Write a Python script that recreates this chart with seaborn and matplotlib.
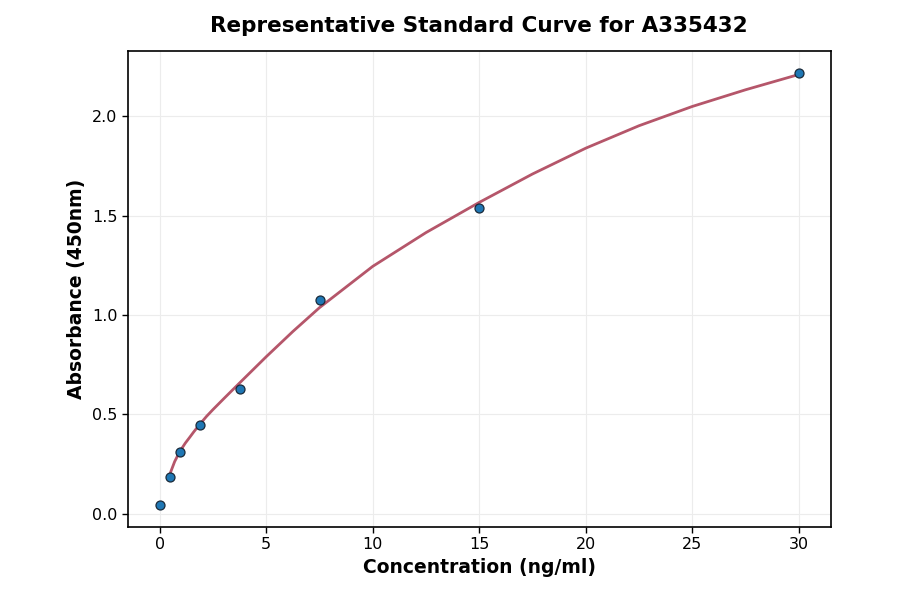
import numpy as np
import pandas as pd
import matplotlib
matplotlib.use("Agg")
import matplotlib.pyplot as plt
import seaborn as sns

# standards (ng/ml) and measured OD
conc = [0, 0.469, 0.938, 1.875, 3.75, 7.5, 15, 30]
od = [0.042, 0.184, 0.308, 0.447, 0.627, 1.075, 1.54, 2.22]

# fitted curve
curve_x = [0.469, 0.7, 0.938, 1.2, 1.406, 1.6, 1.875, 2.2, 2.5, 3, 3.75, 5, 6.25, 7.5,
           10, 12.5, 15, 17.5, 20, 22.5, 25, 27.5, 30]
curve_y = [0.197, 0.262, 0.312, 0.355, 0.384, 0.412, 0.449, 0.49, 0.524, 0.578, 0.658,
           0.79, 0.917, 1.037, 1.245, 1.415, 1.567, 1.71, 1.84, 1.953, 2.05, 2.134, 2.211]

sns.set_theme(style="whitegrid")
plt.rcParams['font.family'] = ['DejaVu Sans']
plt.rcParams['text.color'] = 'black'
plt.rcParams['axes.labelcolor'] = 'black'

pts = pd.DataFrame({"conc": conc, "od": od})
fit = pd.DataFrame({"x": curve_x, "y": curve_y})

fig, ax = plt.subplots(figsize=(9, 5.94), dpi=100)
fig.subplots_adjust(left=0.142, right=0.923, top=0.914, bottom=0.113)

sns.lineplot(data=fit, x="x", y="y", color="#b5566a", linewidth=2, ax=ax)
sns.scatterplot(data=pts, x="conc", y="od", color="#1f77b4", edgecolor="#1a2a3a",
                linewidth=0.9, s=42, zorder=3, ax=ax)

ax.margins(x=0.05, y=0.05)
ax.set_xticks([0, 5, 10, 15, 20, 25, 30])
ax.set_yticks([0.0, 0.5, 1.0, 1.5, 2.0])
ax.grid(True, color="#ececec", linewidth=0.8)
for s in ax.spines.values():
    s.set_color("black")
    s.set_linewidth(1.2)
ax.tick_params(axis="both", direction="out", length=4, width=1, color="black",
               labelsize=11.5, labelcolor="black", bottom=True, left=True)

ax.set_title("Representative Standard Curve for A335432", fontsize=15.5,
             fontweight="bold", pad=14, color="black")
ax.set_xlabel("Concentration (ng/ml)", fontsize=13.5, fontweight="bold", color="black")
ax.set_ylabel("Absorbance (450nm)", fontsize=13.5, fontweight="bold", color="black")

plt.savefig("out.png", dpi=100)
